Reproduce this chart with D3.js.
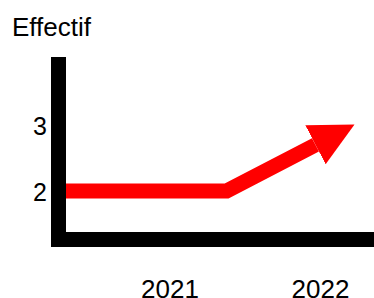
<!DOCTYPE html>
<html>
<head>
<meta charset="utf-8">
<script src="https://cdn.jsdelivr.net/npm/d3@7"></script>
<style>
    body { margin: 0; background: #fff; }
    svg { display: block; font-family: "Liberation Sans", Arial, sans-serif; }
</style>
</head>
<body>
<div class="chart"></div>
<script>
    // values
    let years = [2021, 2022];
    let yTicks = [2, 3];
    let lineX = [2020.31, 2021.38, 2021.97];
    let lineY = [2, 2, 2.7];
    let yTitle = "Effectif";

    let width = 374, height = 298;

    let svg = d3.select(".chart").append("svg")
        .attr("width", width).attr("height", height);

    let x = d3.scaleLinear().domain([2021, 2022]).range([169.5, 320]);
    let y = d3.scaleLinear().domain([2, 3]).range([191, 125]);

    // arrow head
    svg.append("defs").append("marker")
        .attr("id", "head")
        .attr("markerUnits", "userSpaceOnUse")
        .attr("viewBox", "0 -23 46 46")
        .attr("markerWidth", 46).attr("markerHeight", 46)
        .attr("refX", 0).attr("refY", 0)
        .attr("orient", "auto")
        .append("path")
        .attr("d", "M0,-22L44,0L0,22Z")
        .attr("fill", "#ff0000");

    let line = d3.line()
        .x((d, i) => x(lineX[i]))
        .y((d, i) => y(lineY[i]));

    svg.append("path")
        .datum(lineX)
        .attr("d", line)
        .attr("fill", "none")
        .attr("stroke", "#ff0000")
        .attr("stroke-width", 15)
        .attr("stroke-linejoin", "miter")
        .attr("marker-end", "url(#head)");

    // thick L-shaped axes
    svg.append("path")
        .attr("d", "M58.5,57V239.5H" + (width + 10))
        .attr("fill", "none")
        .attr("stroke", "#000")
        .attr("stroke-width", 15)
        .attr("stroke-linejoin", "miter");

    let gx = svg.append("g")
        .attr("transform", "translate(0,297.5)")
        .call(d3.axisBottom(x).tickValues(years).tickFormat(d3.format("d")).tickSize(0).tickPadding(0));
    gx.select(".domain").remove();
    gx.selectAll("text")
        .attr("font-size", "26px").attr("fill", "#000")
        .attr("font-family", "'Liberation Sans', Arial, sans-serif")
        .attr("dy", 0);

    let gy = svg.append("g")
        .attr("transform", "translate(47,0)")
        .call(d3.axisLeft(y).tickValues(yTicks).tickFormat(d3.format("d")).tickSize(0).tickPadding(0));
    gy.select(".domain").remove();
    gy.selectAll("text")
        .attr("font-size", "25px").attr("fill", "#000")
        .attr("font-family", "'Liberation Sans', Arial, sans-serif")
        .attr("dy", "0.36em");

    svg.append("text")
        .attr("x", 12).attr("y", 36)
        .attr("font-size", "26px")
        .text(yTitle);
</script>
</body>
</html>
